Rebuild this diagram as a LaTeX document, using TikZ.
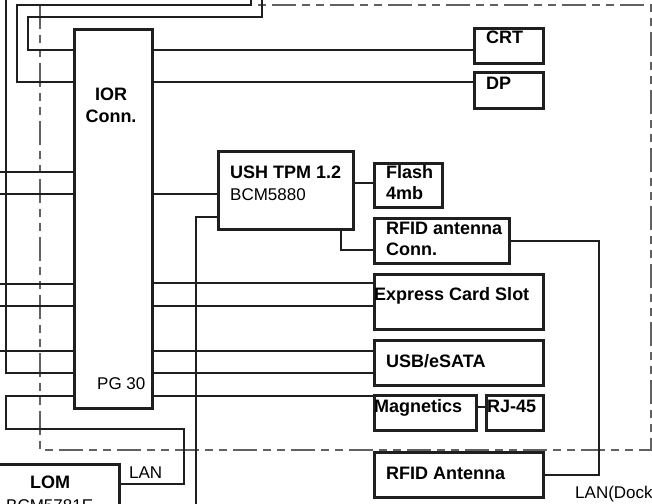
\documentclass[tikz,border=0pt]{standalone}
\usepackage{fontspec}
\setmainfont{Liberation Sans}
\usetikzlibrary{calc}
\tikzset{
  box/.style={draw=black!88, line width=2.8pt, inner sep=0pt, anchor=north west},
  conn/.style={draw=black!88, line width=2.3pt},
  frame/.style={draw=black!62, line width=1.1pt, dash pattern=on 24pt off 6pt on 8pt off 6pt on 8pt off 6pt},
  bt/.style={inner sep=0pt, anchor=base west, font=\fontsize{18}{21}\selectfont\bfseries},
  rt/.style={inner sep=0pt, anchor=base west, font=\fontsize{17}{20}\selectfont},
}
\begin{document}
\begin{tikzpicture}[x=1pt,y=-1pt]
\useasboundingbox (0,0) rectangle (652,503);
\clip (0,0) rectangle (652,503);
\fill[white] (0,0) rectangle (652,503);

% dashed frame
\draw[frame] (40,5) rectangle (651,450);

% boxes
\node[box, minimum width=78pt, minimum height=379pt] (ior) at (73,28) {};
\node[box, minimum width=69pt, minimum height=35pt] (crt) at (473,27) {};
\node[box, minimum width=69pt, minimum height=36pt] (dp) at (473,71) {};
\node[box, minimum width=135pt, minimum height=78pt] (ush) at (217,150) {};
\node[box, minimum width=68pt, minimum height=44pt] (flash) at (373,162) {};
\node[box, minimum width=135pt, minimum height=45pt] (rfidc) at (373,217) {};
\node[box, minimum width=169pt, minimum height=55pt] (exp) at (373,273) {};
\node[box, minimum width=169pt, minimum height=45pt] (usb) at (373,339) {};
\node[box, minimum width=102pt, minimum height=35pt] (mag) at (373,394) {};
\node[box, minimum width=57pt, minimum height=35pt] (rj) at (485,394) {};
\node[box, minimum width=169pt, minimum height=45pt] (rfida) at (373,451) {};
\node[box, minimum width=140pt, minimum height=70pt] (lom) at (-22,463) {};

% texts
\node[bt, anchor=base] (iorT1) at (111,100) {IOR};
\node[bt, anchor=base] (iorT2) at (111,122) {Conn.};
\node[rt] (iorT3) at (97,389) {PG 30};
\node[bt] (crtT) at (486,44) {CRT};
\node[bt] (dpT) at (486,89) {DP};
\node[bt] (ushT1) at (230,178) {USH TPM 1.2};
\node[rt] (ushT2) at (230,200) {BCM5880};
\node[bt] (flashT1) at (386,178) {Flash};
\node[bt] (flashT2) at (386,199) {4mb};
\node[bt] (rfidcT1) at (386,234) {RFID antenna};
\node[bt] (rfidcT2) at (386,255) {Conn.};
\node[bt] (expT) at (374,300) {Express Card Slot};
\node[bt] (usbT) at (386,367) {USB/eSATA};
\node[bt] (magT) at (374,412) {Magnetics};
\node[bt] (rjT) at (487,412) {RJ-45};
\node[bt] (rfidaT) at (386,479) {RFID Antenna};
\node[bt] (lomT1) at (30,488) {LOM};
\node[rt] (lomT2) at (6,511) {BCM5781E};
\node[rt] (lanT) at (129,478) {LAN};
\node[rt] (dockT) at (575,498) {LAN(Dock};

% free ends
\coordinate (t0) at (6,-2);
\coordinate (t1) at (251,-2);
\coordinate (t2) at (262,-2);
\coordinate (bot) at (196,510);
\coordinate (l1) at (-2,172);
\coordinate (l2) at (-2,194);
\coordinate (l3) at (-2,284);
\coordinate (l4) at (-2,306);
\coordinate (l5) at (-2,351);

% left side connectors
\draw[conn] (ior.west |- 0,50) -| (28,17) -| (t2);
\draw[conn] (ior.west |- 0,82) -| (17,5) -| (t1);
\draw[conn] (t0) |- (ior.west |- 0,373);
\draw[conn] (l1) -- (ior.west |- l1);
\draw[conn] (l2) -- (ior.west |- l2);
\draw[conn] (l3) -- (ior.west |- l3);
\draw[conn] (l4) -- (ior.west |- l4);
\draw[conn] (l5) -- (ior.west |- l5);
\draw[conn] (ior.west |- 0,396) -| (6,429) -| (184,484) -- (lom.east |- 0,484);

% right side connectors
\draw[conn] (ior.east |- 0,50) -- (crt.west |- 0,50);
\draw[conn] (ior.east |- 0,82) -- (dp.west |- 0,82);
\draw[conn] (ior.east |- 0,194) -- (ush.west |- 0,194);
\draw[conn] (ush.west |- 0,217) -| (bot);
\draw[conn] (ush.east |- 0,183) -- (flash.west |- 0,183);
\draw[conn] (ush.south -| 341,0) |- (rfidc.west |- 0,250);
\draw[conn] (rfida.east) -| ($(rfidc.east)+(88,0)$) -- (rfidc.east);
\draw[conn] (ior.east |- 0,283) -- (exp.west |- 0,283);
\draw[conn] (ior.east |- 0,306) -- (exp.west |- 0,306);
\draw[conn] (ior.east |- 0,351) -- (usb.west |- 0,351);
\draw[conn] (ior.east |- 0,373) -- (usb.west |- 0,373);
\draw[conn] (ior.east |- 0,396) -- (mag.west |- 0,396);
\draw[conn] (mag.east |- 0,407) -- (rj.west |- 0,407);
\end{tikzpicture}
\end{document}
